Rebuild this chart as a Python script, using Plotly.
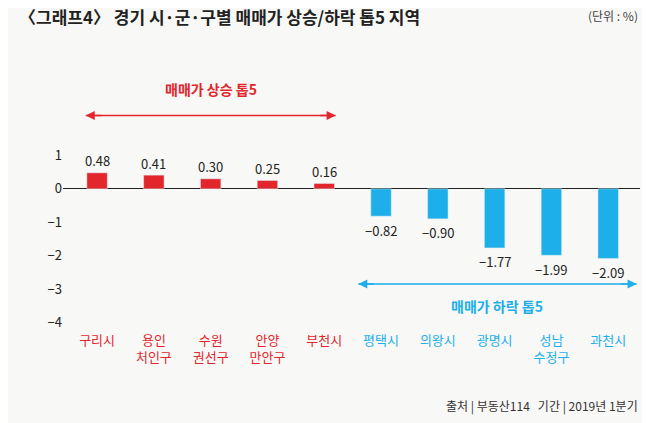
import plotly.graph_objects as go

regions = ["구리시", "용인<br>처인구", "수원<br>권선구", "안양<br>만안구", "부천시",
           "평택시", "의왕시", "광명시", "성남<br>수정구", "과천시"]
changes = [0.48, 0.41, 0.30, 0.25, 0.16, -0.82, -0.90, -1.77, -1.99, -2.09]
yticks = [1, 0, -1, -2, -3, -4]

RED = "#e2262c"
BLUE = "#1cafe9"
colors = [RED if v > 0 else BLUE for v in changes]
xs = list(range(len(regions)))

fig = go.Figure()
fig.add_trace(go.Bar(x=xs, y=changes, marker_color=colors, width=0.36))

for x, v in zip(xs, changes):
    fig.add_annotation(x=x, y=v, text=("%.2f" % v).replace("-", "−"), showarrow=False,
                       yshift=12 if v > 0 else -14,
                       font=dict(size=13, color="#222", family="Noto Sans CJK KR"))

def arrow(x0, x1, y, color, label, ly):
    mid = (x0 + x1) / 2
    fig.add_shape(type="line", x0=x0, x1=x1, y0=y, y1=y, line=dict(color=color, width=1.5))
    for end, start in ((x0, x0 + 0.3), (x1, x1 - 0.3)):
        fig.add_annotation(x=end, y=y, ax=start, ay=y, axref="x", ayref="y",
                           xref="x", yref="y", text="", showarrow=True,
                           arrowhead=2, arrowsize=1.2, arrowwidth=1.5, arrowcolor=color)
    fig.add_annotation(x=mid, y=ly, text="<b>%s</b>" % label, showarrow=False,
                       font=dict(size=14, color=color, family="Noto Sans CJK KR"))

arrow(-0.2, 4.2, 2.2, RED, "매매가 상승 톱5", 3.0)
arrow(4.6, 9.5, -2.85, BLUE, "매매가 하락 톱5", -3.5)

ticktext = ["<span style='color:%s'>%s</span>" % (c, r) for c, r in zip(colors, regions)]

fig.add_annotation(xref="paper", yref="paper", x=-0.08, y=1.26, xanchor="left",
                   text="<b>〈그래프4〉 경기 시·군·구별 매매가 상승/하락 톱5 지역</b>",
                   showarrow=False, font=dict(size=17, color="#222", family="Noto Sans CJK KR"))
fig.add_annotation(xref="paper", yref="paper", x=1.0, y=1.25, xanchor="right",
                   text="(단위 : %)", showarrow=False,
                   font=dict(size=12, color="#444", family="Noto Sans CJK KR"))
fig.add_annotation(xref="paper", yref="paper", x=1.0, y=-0.33, xanchor="right",
                   text="출처 | 부동산114   기간 | 2019년 1분기", showarrow=False,
                   font=dict(size=12, color="#333", family="Noto Sans CJK KR"))

fig.update_layout(
    width=650, height=423, margin=dict(l=55, r=18, t=62, b=100),
    paper_bgcolor="#f8f8f6", plot_bgcolor="#f8f8f6", showlegend=False,
    font=dict(family="Noto Sans CJK KR", size=13, color="#222"),
    xaxis=dict(range=[-0.6, 9.56], tickvals=xs, ticktext=ticktext, showgrid=False,
               zeroline=False, showline=False, ticks=""),
    yaxis=dict(range=[-4.26, 3.56], tickvals=yticks,
               ticktext=[str(t).replace("-", "−") for t in yticks],
               showgrid=False, zeroline=True, zerolinecolor="#222", zerolinewidth=1),
)
fig.write_html("out.html")
